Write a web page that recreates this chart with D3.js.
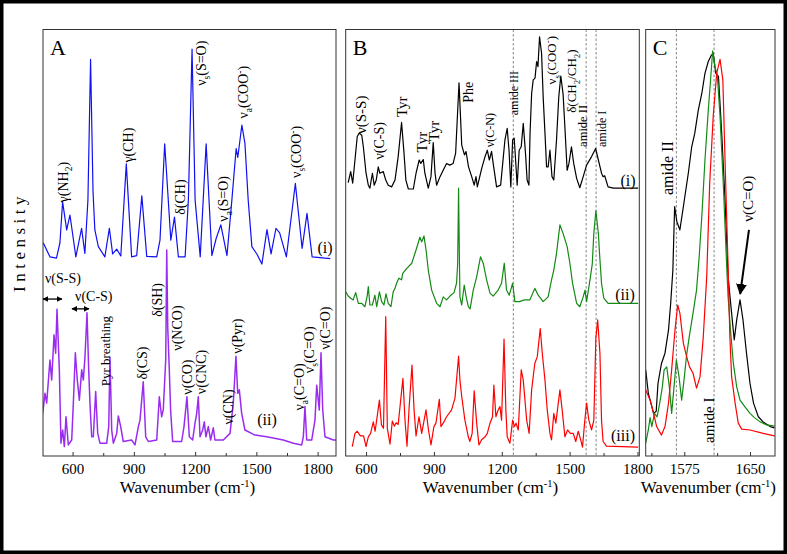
<!DOCTYPE html>
<html><head><meta charset="utf-8">
<script src="https://cdn.jsdelivr.net/npm/d3@7"></script>
<style>body{margin:0;background:#fff}svg{display:block;font-family:"Liberation Serif","Times New Roman",serif}</style>
</head><body><svg id="c" width="787" height="554"></svg>
<script>
// ---------- data ----------
const ticksAB = [600, 900, 1200, 1500, 1800];
const minorAB = [750, 1050, 1350, 1650];
const ticksC = [1575, 1650];
const minorC = [1537.5, 1612.5];
const dashB = [1251, 1573, 1617];
const dashC = [1566, 1609];

// Panel A (i) blue
const specA1 = [[456,50.0],[489,46.7],[521,46.4],[538,50],[551,59.6],[571,53],[587,56.5],[616,46.7],[644,53.4],[660,47.5],[675,60],[688,93.0],[700,62],[709,53],[726,49.1],[758,46.7],[780,53.4],[796,47.4],[816,48.5],[836,46.9],[863,68.5],[889,46.7],[914,47],[939,61],[963,46.8],[1012,46.7],[1028,50.6],[1051,73.2],[1081,50.6],[1099,56],[1118,46.7],[1151,46.7],[1167,60],[1185,95.4],[1200,60],[1225,46.7],[1254,73.2],[1282,47],[1303,51],[1326,54.2],[1341,50.6],[1356,47],[1380,60],[1401,72.1],[1409,70],[1429,77.6],[1444,73.3],[1460,60],[1478,49.1],[1503,47.3],[1527,45],[1552,53.1],[1572,47.4],[1596,53.4],[1614,52.3],[1647,46.7],[1691,63.9],[1724,48.7],[1748,56.9],[1773,46.7],[1862,46.3]];
// Panel A (ii) purple
const specA2 = [[453.5,10.0],[464.8,14.7],[473,12.4],[489,22.5],[497.6,17.8],[509,28.4],[517,24.1],[523.6,34.4],[535,20.2],[543,3.0],[551.4,6.1],[559.5,2.2],[567.6,9.2],[579,2.6],[595.6,3.75],[603.6,12.4],[613.4,24.2],[623,17.8],[633,13.1],[644.5,20.2],[652.5,17.8],[660.7,23.3],[670.5,33.6],[678.8,20.2],[685,12.4],[693.5,4.5],[701.4,4.5],[713,15.1],[723,5.3],[734,3.0],[767,3.0],[777,6.9],[783,23.1],[791.5,6.1],[799.5,3.0],[816,5.3],[824,9.4],[835.5,6.9],[848,3.4],[889,3.75],[905.6,2.6],[922,6.9],[930,8.4],[946,17.4],[958,4.5],[971,3.4],[1012,3.75],[1024.6,13.9],[1036,9.2],[1044,10.8],[1056,22.5],[1061,48.3],[1066,30],[1073.6,20.2],[1080,10.8],[1090,3.4],[1134,3.4],[1145.6,6.9],[1160,13.9],[1171.6,4.5],[1188,3.75],[1199.5,7.7],[1207.8,10.0],[1215.6,13.9],[1224,4.5],[1237,6.1],[1245,8.0],[1253,4.5],[1264.6,6.9],[1276,3.75],[1289,6.6],[1297,3.75],[1338,3.75],[1371,5.3],[1387,12.4],[1400,23.4],[1408.6,14.7],[1416.5,15.5],[1428,10.0],[1444,6.1],[1493,4.9],[1550.6,4.5],[1632,3.75],[1681,3.0],[1722,2.6],[1730,4.5],[1738,11.6],[1746.6,3.75],[1771,3.75],[1787,8.4],[1795.5,16.6],[1803,13.1],[1808,10.8],[1816.6,24.2],[1825,10.8],[1836,4.5],[1877,3.75],[1890,3.75]];
// Panel B (i) black
const specB1 = [[521,64.1],[532,66.7],[541,64],[551,69.4],[561,74.9],[570,75.7],[581,75.2],[588,72.5],[600,66.3],[610,63.5],[617,62.8],[628,66.3],[636,63.5],[645,64.7],[654,67.8],[661,66.3],[676,66.7],[687,64.7],[698,63.5],[713,63.1],[728,64.7],[742,70.2],[757,78.2],[767,71.6],[776,64.7],[787,62.6],[809,62.6],[821,66.3],[835,69.4],[842,68.6],[853,69.5],[860,66.3],[875,62.8],[887,65.5],[897,73.5],[905,66.3],[912,63.5],[927,65.5],[941,67],[956,68.6],[970,68.2],[985,68.6],[996,71],[1011,87.5],[1023,72.9],[1035,70.6],[1042,71.4],[1053,67.8],[1067,65.5],[1078,63.5],[1086,65.5],[1092,63.1],[1111,67.4],[1126,70.2],[1136,71.7],[1145,69.4],[1155,71.4],[1162,68.6],[1177,63.1],[1195,63.5],[1207,70.2],[1214,74.1],[1224,76.8],[1232,71.7],[1240,63.1],[1248,74.1],[1255,74.5],[1263,67.8],[1268,63.5],[1277,71.7],[1286,72.5],[1295,78.0],[1305,70.9],[1312,64.7],[1320,63.5],[1325,75.7],[1332,85.0],[1339,88.2],[1347,88.6],[1354,92.5],[1360,91.3],[1367,98.3],[1376,94.4],[1383,84.2],[1391,75.7],[1398,67.8],[1405,67.8],[1413,71.7],[1422,65.5],[1430,64.7],[1442,74.1],[1452,84.2],[1461,89.1],[1471,84.9],[1479,77.2],[1489,67],[1497,68.6],[1508,72.5],[1518,68.6],[1531,65.1],[1545,62.9],[1560,65.5],[1575,68.2],[1597,70.2],[1615,72.1],[1627,69.4],[1641,66.3],[1648,65.5],[1655,65.7],[1670,63.1],[1693,62.8],[1803,62.8]];
// Panel B (ii) green
const specB2 = [[510,38.5],[521,37.5],[532,37],[543,36.6],[554,38.3],[566,35.8],[581,35.8],[595,35],[605,37.5],[610,39.7],[617,35.4],[628,35.4],[639,37.7],[647,35],[659,38.5],[669,36.2],[679,35.4],[688,38],[698,35.8],[710,35],[720,38.5],[728,39.3],[735,40.5],[745,41.7],[757,41.3],[762,42.8],[780,44],[802,45.2],[821,48.3],[838,51.3],[846,50.2],[856,51.6],[866,48],[875,43.6],[890,38.9],[912,35.8],[927,35],[941,37.3],[956,36.6],[971,37.5],[989,38.3],[1000,40.5],[1005,45],[1009,62.8],[1013,45],[1015,37.3],[1023,35.4],[1034,40.1],[1042,37.5],[1052,35],[1060,34.5],[1074,38.9],[1089,42],[1106,46.7],[1118,45.2],[1133,41.3],[1148,38.2],[1162,37.5],[1184,38.9],[1199,40.5],[1211,45.2],[1221,38.9],[1233,37.7],[1248,40.5],[1258,36.2],[1278,36.2],[1300,36.6],[1324,36.6],[1346,39.3],[1361,37.7],[1383,36.2],[1405,37.3],[1420,41.3],[1430,43.6],[1442,47.5],[1457,54.2],[1471,52.2],[1489,49.1],[1501,45.2],[1513,40.5],[1531,35.8],[1545,35],[1560,37.3],[1568,38.9],[1575,36.2],[1590,41.3],[1600,45],[1607,52.2],[1616,57.5],[1627,52.2],[1634,46],[1641,40.5],[1651,37],[1670,35.8],[1803,35.8]];
// Panel B (iii) red
const specB3 = [[539,2.2],[551,5.3],[561,5.8],[575,4.7],[589,4.7],[600,2.2],[610,4.5],[620,5.3],[632,8],[640,5.8],[647,8.4],[659,13.1],[668,7.3],[677,6.5],[687,32.7],[694,6.5],[706,2.8],[716,8.2],[725,7],[733,7.8],[742,7.4],[763,18.2],[772,8.5],[781,2.3],[790,11],[803,21.3],[812,11],[821,4.7],[834,9.2],[846,5.3],[865,10.8],[876,6.1],[887,2.6],[900,6.9],[909,7.7],[924,13.3],[931,6.9],[941,7.7],[956,9.2],[978,10.8],[993,13.5],[1009,23.4],[1015,17.8],[1023,13.9],[1037,8.4],[1052,4.5],[1059,3.4],[1069,5.3],[1078,15.3],[1089,7.7],[1099,2.6],[1111,3.8],[1126,4.5],[1136,5.3],[1148,7.7],[1159,9.2],[1165,16.6],[1174,9.2],[1184,10.8],[1192,11.6],[1199,8.4],[1210,27.4],[1218,10.8],[1224,4.5],[1236,3],[1248,8.4],[1256,6.9],[1263,7.7],[1273,6.1],[1286,20.2],[1295,17.8],[1310,8.4],[1321,5.3],[1332,15.5],[1346,21.7],[1357,23.3],[1370,29.9],[1379,24.1],[1391,17.8],[1401,10.8],[1413,5.3],[1420,3.8],[1430,10],[1439,7.7],[1457,15.5],[1467,10.8],[1479,4.5],[1491,6.1],[1503,5.3],[1516,5.3],[1527,3.4],[1538,5.8],[1549,3.8],[1557,2.1],[1566,7.7],[1575,12.4],[1585,8.4],[1597,6.1],[1607,8.4],[1616,27.7],[1624,31.9],[1634,24.1],[1641,8.4],[1648,3.4],[1663,2.3],[1803,2.1]];
// Panel C
const specC1 = [[1531,20.2],[1534,14.7],[1537,12.4],[1540,10],[1543,10.5],[1545,17],[1549,21.7],[1553,24.1],[1557,29.5],[1559.5,35.8],[1562,43.6],[1564,58.5],[1566.5,55],[1570,53],[1574,58.5],[1579.6,66.3],[1583.5,72.5],[1587,75.7],[1591,81.1],[1595,85],[1598.6,89.7],[1602.4,92.5],[1606,94],[1608,94.4],[1611,89.7],[1614,89],[1617.7,75.7],[1621.5,60],[1625,42],[1629,33.5],[1632,27.2],[1634.8,31.9],[1638.6,36.6],[1642,31.9],[1646,24.1],[1650,17],[1654,12.4],[1659.5,9.2],[1665,8],[1673,6.9],[1678,6.6]];
const specC2 = [[1531,3],[1534,6.1],[1536,9],[1538,6.9],[1541,10],[1544,9.2],[1547,12.4],[1550,16.2],[1552,20.2],[1555,20.9],[1558,16.2],[1560.6,10],[1563,15.5],[1566,22.5],[1569,18.6],[1572,13.1],[1574.7,17.8],[1577.7,23.7],[1580.7,28],[1585,33.5],[1589,38.9],[1592,46.7],[1595,56.1],[1598.6,69.4],[1602.4,81.1],[1605,88.2],[1607.4,95],[1610,91.3],[1612.7,89.3],[1615.8,79.6],[1619.5,63.9],[1623.4,44.4],[1625,37.3],[1628,28.8],[1631,21.7],[1634.8,16.2],[1638.6,13.1],[1644,11.6],[1650,10],[1655,9],[1661.5,8],[1669,7.3],[1678,7]];
const specC3 = [[1531,15.5],[1536,13.1],[1540,10],[1543.5,6.9],[1549,4.9],[1553,6.9],[1557,12.4],[1560.6,20.2],[1564.4,29.5],[1567.5,35.4],[1570,33.5],[1574,26.4],[1577.7,23.3],[1581,20.9],[1585,19.4],[1589,15.9],[1593,18.6],[1596.7,28],[1600.6,42],[1604,63.9],[1608,79.6],[1612,89.7],[1615.8,93],[1619,88.2],[1621.5,69.4],[1625,44.4],[1627,28],[1629,18.6],[1633,12.4],[1636.6,7.7],[1640.5,6.3],[1650,6.1],[1665,5.3],[1678,4.7]];

// annotations: text (_x subscript, ^x superscript), anchor in data units
const annA = [
  {t:"γ(NH_2)", x:553, y:64.2, r:1},
  {t:"γ(CH)", x:871, y:72.9, r:1},
  {t:"δ(CH)", x:1126, y:60.7, r:1},
  {t:"ν_s(S=O)", x:1229, y:92.1, r:1},
  {t:"ν_a(S=O)", x:1337, y:60.3, r:1},
  {t:"ν_a(COO^-)", x:1435, y:85.3, r:1},
  {t:"ν_s(COO^-)", x:1694, y:71.3, r:1},
  {t:"(i)", x:1836, y:49, r:0, fs:16},
  {t:"Pyr breathing", x:759, y:24.6, r:1, fs:13},
  {t:"δ(CS)", x:940, y:21.8, r:1},
  {t:"δ(SH)", x:1013, y:36.6, r:1},
  {t:"ν(NCO)", x:1111, y:30, r:1},
  {t:"ν(CO)", x:1160, y:18.5, r:1},
  {t:"ν(CNC)", x:1229, y:19.7, r:1},
  {t:"ν(CN)", x:1361, y:11.5, r:1},
  {t:"ν(Pyr)", x:1405, y:28.1, r:1},
  {t:"(ii)", x:1552, y:8.7, r:0, fs:16},
  {t:"ν_a(C=O)", x:1709, y:16.2, r:1},
  {t:"ν_s(C=O)", x:1758, y:24.9, r:1},
  {t:"ν(C=O)", x:1836, y:30, r:1}
];
const annAh = [
  {t:"ν(S-S)", x:465, y:40.6},
  {t:"ν(C-S)", x:612, y:36.3}
];
const arrowsA = [[455, 548, 36.8], [597, 680, 34.5]];
const annB = [
  {t:"ν(S-S)", x:578, y:80, fs:15},
  {t:"ν(C-S)", x:657, y:73.9},
  {t:"Tyr", x:759, y:81.9, fs:15},
  {t:"Tyr", x:847, y:73.6, fs:15},
  {t:"Tyr", x:900, y:76.2, fs:15},
  {t:"Phe", x:1051, y:85.3, fs:14},
  {t:"ν(C-N)", x:1148, y:76.4, fs:12},
  {t:"amide III", x:1254, y:85.1, fs:12},
  {t:"ν_s(COO^-)", x:1418, y:92.8, fs:13},
  {t:"δ(CH_2/CH_2)", x:1510, y:87.9, fs:13},
  {t:"amide II", x:1559, y:77.4, fs:12.5},
  {t:"amide I", x:1643, y:76.7, fs:12},
  {t:"(i)", x:1758, y:64.7, r:0, fs:16},
  {t:"(ii)", x:1745, y:38, r:0, fs:16},
  {t:"(iii)", x:1736, y:4.9, r:0, fs:16}
];
const annC = [
  {t:"amide II", x:1555.3, y:67.5, fs:16},
  {t:"ν(C=O)", x:1647.7, y:60.3, fs:15},
  {t:"amide I", x:1603.2, y:8.4, fs:15}
];
const arrowC = [[1648.8, 53], [1638.8, 38]];

// ---------- drawing ----------
const svg = d3.select('#c');
const yTop = 29.5, yBot = 456;
const y = d3.scaleLinear().domain([0,100]).range([yBot, yTop]);
const xA = d3.scaleLinear().domain([455,1890]).range([43,336]);
const xB = d3.scaleLinear().domain([510,1808]).range([345.7,639.3]);
const xC = d3.scaleLinear().domain([1531,1678.5]).range([645.7,775]);

const defs = svg.append('defs');
function marker(id, size){
  defs.append('marker').attr('id', id).attr('viewBox','0 0 10 10').attr('refX', 9).attr('refY', 5)
    .attr('markerWidth', size).attr('markerHeight', size).attr('orient','auto-start-reverse')
    .attr('markerUnits','userSpaceOnUse')
    .append('path').attr('d','M0,0 L10,5 L0,10 z').attr('fill','#000');
}
marker('ah', 6); marker('ahC', 11);

// outer frame
svg.append('rect').attr('x',1.75).attr('y',1.75).attr('width',783.5).attr('height',550.5)
  .attr('fill','none').attr('stroke','#000').attr('stroke-width',3.5);

function richText(g, str, fs){
  const t = g.append('text').attr('font-size', fs);
  let shift = 0, buf = '';
  const flush = () => { if (buf) { const sp = t.append('tspan').text(buf); if (shift) { sp.attr('dy', -shift); shift = 0; } buf=''; } };
  for (let i=0;i<str.length;i++){
    const c = str[i];
    if ((c==='_'||c==='^') && i+1<str.length){
      flush();
      const target = c==='_' ? 0.3*fs : -0.38*fs;
      t.append('tspan').attr('font-size', fs*0.68).attr('dy', target - shift).text(str[i+1]);
      shift = target; i++;
    } else buf += c;
  }
  flush();
  return t;
}

function panel(x, ticks, minor, id, label, series, dashes, anns, defFs){
  const [x0,x1] = x.range();
  defs.append('clipPath').attr('id', id).append('rect').attr('x',x0).attr('y',yTop).attr('width',x1-x0).attr('height',yBot-yTop);
  const g = svg.append('g');
  (dashes||[]).forEach(d => g.append('line').attr('x1',x(d)).attr('x2',x(d)).attr('y1',yTop).attr('y2',yBot)
    .attr('stroke','#666').attr('stroke-width',0.8).attr('stroke-dasharray','2.5,2'));
  const line = d3.line().x(d=>x(d[0])).y(d=>y(d[1]));
  const lg = g.append('g').attr('clip-path', `url(#${id})`);
  series.forEach(s => lg.append('path').attr('d', line(s.d)).attr('fill','none')
    .attr('stroke', s.c).attr('stroke-width', s.w||1.2).attr('stroke-linejoin','round'));
  g.append('rect').attr('x',x0).attr('y',yTop).attr('width',x1-x0).attr('height',yBot-yTop)
    .attr('fill','none').attr('stroke','#333').attr('stroke-width',1);
  const ax = g.append('g').attr('transform',`translate(0,${yBot})`)
    .call(d3.axisBottom(x).tickValues(ticks).tickSizeInner(-4).tickSizeOuter(0).tickPadding(7).tickFormat(d3.format('d')));
  ax.select('.domain').remove();
  ax.selectAll('text').attr('font-size',15).attr('font-family','"Liberation Serif",serif').attr('fill','#000');
  ax.selectAll('line').attr('stroke','#333');
  const mx = g.append('g').attr('transform',`translate(0,${yBot})`)
    .call(d3.axisBottom(x).tickValues(minor).tickSizeInner(-3).tickSizeOuter(0).tickFormat(''));
  mx.select('.domain').remove(); mx.selectAll('line').attr('stroke','#333');
  g.append('text').attr('x', x0+7).attr('y', yTop+25).attr('font-size',22).text(label);
  anns.forEach(a => {
    const fs = a.fs || defFs;
    const gg = g.append('g');
    richText(gg, a.t, fs).attr('text-anchor','middle').attr('dy','0.35em');
    if (a.r === 0) gg.attr('transform', `translate(${x(a.x)},${y(a.y)})`);
    else gg.attr('transform', `translate(${x(a.x)},${y(a.y)}) rotate(-90)`);
  });
  const tt = g.append('text').attr('x', (x0+x1)/2 - 2).attr('y', 493).attr('text-anchor','middle').attr('font-size',17);
  tt.append('tspan').text('Wavenumber (cm');
  tt.append('tspan').attr('font-size',10.5).attr('dy',-6).text('-1');
  tt.append('tspan').attr('dy',6).text(')');
  return g;
}

const gA = panel(xA, ticksAB, minorAB, 'clipA', 'A', [
  {d: specA1, c:'#1010f0'}, {d: specA2, c:'#9a2cf0', w:1.5}], null, annA, 14);
annAh.forEach(a => richText(gA, a.t, 14).attr('x', xA(a.x)).attr('y', y(a.y)));
arrowsA.forEach(a => gA.append('line').attr('x1', xA(a[0])).attr('x2', xA(a[1])).attr('y1', y(a[2])).attr('y2', y(a[2]))
  .attr('stroke','#000').attr('stroke-width',1.3).attr('marker-start','url(#ah)').attr('marker-end','url(#ah)'));

panel(xB, ticksAB, minorAB, 'clipB', 'B', [
  {d: specB1, c:'#000'}, {d: specB2, c:'#138a13'}, {d: specB3, c:'#f00'}], dashB, annB, 14);

const gC = panel(xC, ticksC, minorC, 'clipC', 'C', [
  {d: specC1, c:'#000'}, {d: specC2, c:'#138a13'}, {d: specC3, c:'#f00'}], dashC, annC, 15);
gC.append('line').attr('x1', xC(arrowC[0][0])).attr('y1', y(arrowC[0][1])).attr('x2', xC(arrowC[1][0])).attr('y2', y(arrowC[1][1]))
  .attr('stroke','#000').attr('stroke-width',2).attr('marker-end','url(#ahC)');

svg.append('text').attr('transform','translate(25,242) rotate(-90)').attr('text-anchor','middle')
  .attr('font-size',17).attr('letter-spacing','4.5px').text('Intensity');
</script></body></html>
